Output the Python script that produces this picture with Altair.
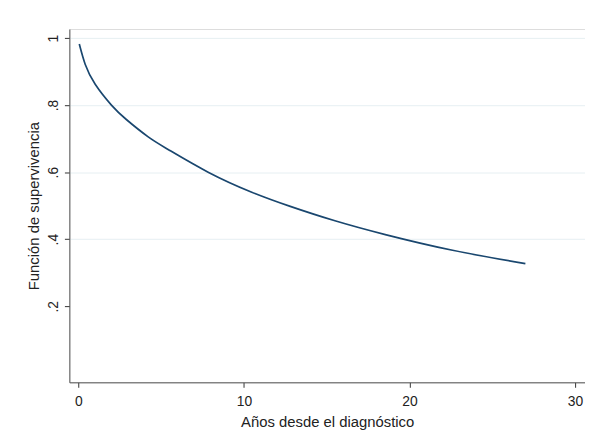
import altair as alt
import pandas as pd

# Values
years = [0.06, 0.42, 1.02, 2.0, 2.9, 4.2, 5.45, 7.84, 10.44, 12.8, 15.5, 18.6, 22.6, 27.0]
survival = [0.982, 0.921, 0.862, 0.800, 0.757, 0.706, 0.667, 0.600, 0.541, 0.498, 0.455, 0.413, 0.367, 0.327]

x_ticks = [0, 10, 20, 30]
y_ticks = [0.2, 0.4, 0.6, 0.8, 1.0]

df = pd.DataFrame({"t": years, "s": survival})

FONT = "Liberation Sans"

chart = alt.Chart(df).mark_line(
    color="#1a476f", strokeWidth=1.7, interpolate="natural", clip=True
).encode(
    x=alt.X("t:Q", scale=alt.Scale(domain=[-0.54, 30.6], nice=False, zero=False),
            axis=alt.Axis(values=x_ticks, title="Años desde el diagnóstico", grid=False,
                          labelFontSize=14, titleFontSize=15, labelPadding=7,
                          titlePadding=7, tickSize=5, domainColor="#555555",
                          tickColor="#333333", labelColor="#222222", titleColor="#222222",
                          titleFontWeight="normal",
                          labelFont=FONT, titleFont=FONT, format="d")),
    y=alt.Y("s:Q", scale=alt.Scale(domain=[-0.027, 1.027], nice=False, zero=False),
            axis=alt.Axis(values=y_ticks, title="Función de supervivencia",
                          labelExpr="datum.value > 0.99 ? '1' : '.' + round(datum.value * 10)",
                          labelAngle=-90, labelAlign="center", labelBaseline="bottom",
                          labelPadding=4, tickSize=5, labelFontSize=14, titleFontSize=15,
                          titlePadding=5, domainColor="#555555", tickColor="#333333",
                          labelColor="#222222", titleColor="#222222",
                          titleFontWeight="normal",
                          labelFont=FONT, titleFont=FONT,
                          gridColor="#e6eff2", gridWidth=1,
                          gridOpacity={"condition": {"test": "datum.value < 0.3", "value": 0}, "value": 1})),
).properties(
    width=521, height=357,
    autosize=alt.AutoSizeParams(type="none"),
    padding={"left": 62, "top": 19, "right": 0, "bottom": 50},
).configure_view(stroke=None).configure(background="#ffffff")

chart.save("out.html", embed_options={"renderer": "svg", "actions": False})
